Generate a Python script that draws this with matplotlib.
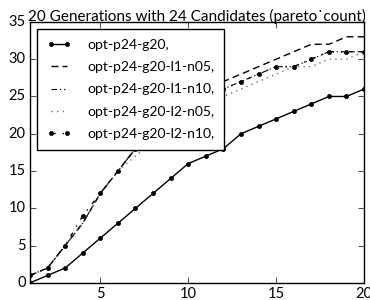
import numpy as np
import matplotlib.pyplot as plt

plt.style.use('classic')
plt.rcParams['font.family'] = ['Lato', 'DejaVu Sans']

gens = list(range(1, 21))
p24_g20 = [0, 1, 2, 4, 6, 8, 10, 12, 14, 16, 17, 18, 20, 21, 22, 23, 24, 25, 25, 26]
l1_n05 = [1, 2, 5, 8, 12, 15, 18, 20, 22, 24, 26, 27, 28, 29, 30, 31, 32, 32, 33, 33]
l1_n10 = [1, 2, 5, 8, 12, 15, 18, 20, 22, 24, 25, 26, 27, 28, 29, 29, 30, 31, 31, 31]
l2_n05 = [1, 2, 5, 8, 12, 15, 17, 19, 21, 23, 24, 25, 26, 27, 28, 29, 29, 30, 30, 31]
l2_n10 = [1, 2, 5, 9, 12, 15, 18, 20, 22, 24, 25, 26, 27, 28, 29, 29, 30, 31, 31, 31]

fig = plt.figure(figsize=(3.7, 3.0), dpi=100, facecolor='white')
ax = fig.add_axes([0.081, 0.057, 0.903, 0.870])

ax.plot(gens, p24_g20, 'k-', marker='o', markersize=3, lw=1, label='opt-p24-g20,')
ax.plot(gens, l1_n05, 'k--', lw=1, dashes=(5, 3), label='opt-p24-g20-l1-n05,')
ax.plot(gens, l1_n10, 'k-.', lw=0.8, dashes=(4, 2, 1, 2, 1, 2), label='opt-p24-g20-l1-n10,')
ax.plot(gens, l2_n05, color='0.45', ls=':', lw=1, label='opt-p24-g20-l2-n05,')
ax.plot(gens, l2_n10, 'k-.', marker='o', markersize=3, lw=1, label='opt-p24-g20-l2-n10,')

ax.set_xlim(1, 20)
ax.set_ylim(0, 35)
ax.set_xticks([5, 10, 15, 20])
ax.set_yticks(range(0, 36, 5))
ax.tick_params(direction='in', labelsize=10.5, top=True, right=True, pad=3)
ax.set_title('20 Generations with 24 Candidates (pareto˙count)', fontsize=11, pad=1)

leg = ax.legend(loc='upper left', fontsize=10, frameon=True, fancybox=False,
                handlelength=1.8, handletextpad=1.1, borderpad=0.7, labelspacing=0.75,
                borderaxespad=0.5)
leg.get_frame().set_edgecolor('black')

fig.savefig('out.png', dpi=100, facecolor='white')
